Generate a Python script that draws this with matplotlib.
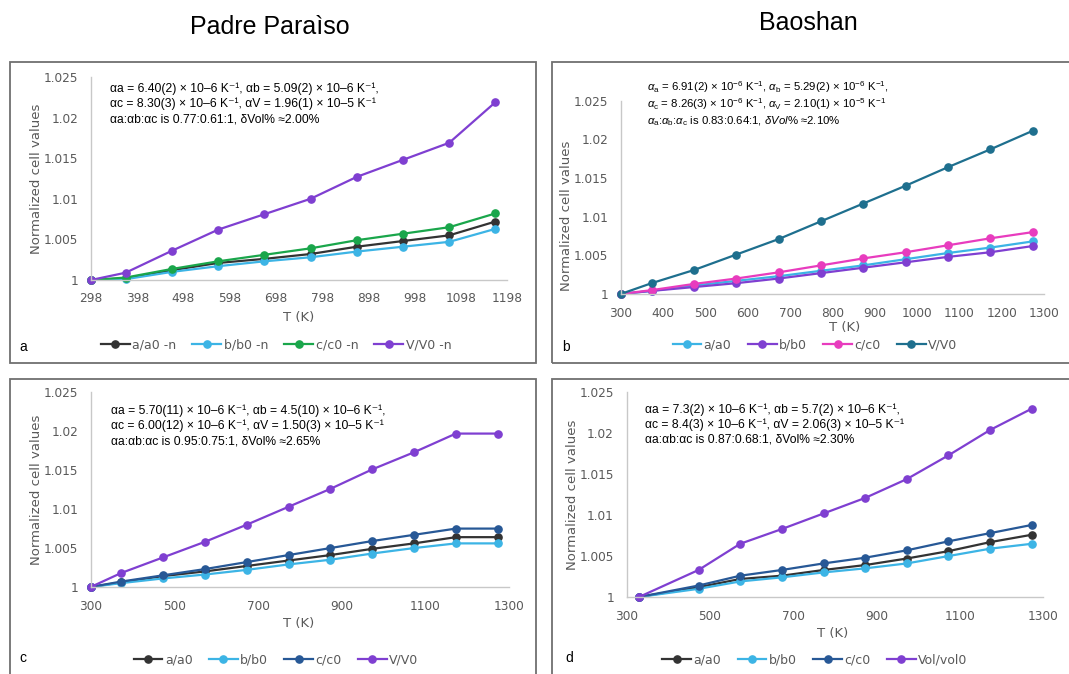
import matplotlib
matplotlib.use("Agg")
import matplotlib.pyplot as plt
from matplotlib.patches import Rectangle
from matplotlib.ticker import FuncFormatter, MultipleLocator
from matplotlib.lines import Line2D

plt.rcParams['mathtext.fontset'] = 'custom'
plt.rcParams['mathtext.rm'] = 'Liberation Sans'
plt.rcParams['mathtext.it'] = 'Liberation Sans:italic'
plt.rcParams['mathtext.bf'] = 'Liberation Sans:bold'

# ---------------- data ----------------
T_a = [298, 373, 473, 573, 673, 773, 873, 973, 1073, 1173]
a_a = [1, 1.0002, 1.0012, 1.0021, 1.0026, 1.0032, 1.0041, 1.0048, 1.0055, 1.0072]
b_a = [1, 1.0001, 1.0010, 1.0017, 1.0023, 1.0028, 1.0035, 1.0041, 1.0047, 1.0063]
c_a = [1, 1.0003, 1.00136, 1.0023, 1.0031, 1.0039, 1.0049, 1.0057, 1.0065, 1.0082]
V_a = [1, 1.0009, 1.0036, 1.0062, 1.0081, 1.0100, 1.0127, 1.0148, 1.0169, 1.0219]

T_b = [300, 373, 473, 573, 673, 773, 873, 973, 1073, 1173, 1273]
a_b = [1, 1.0004, 1.0011, 1.0017, 1.0023, 1.0030, 1.0037, 1.0045, 1.0053, 1.0060, 1.0068]
b_b = [1, 1.0004, 1.0009, 1.0014, 1.0020, 1.0027, 1.0034, 1.0041, 1.0048, 1.0054, 1.0062]
c_b = [1, 1.0005, 1.0013, 1.0020, 1.0028, 1.0037, 1.0046, 1.0054, 1.0063, 1.0072, 1.0080]
V_b = [1, 1.0014, 1.0031, 1.0051, 1.0071, 1.0094, 1.0117, 1.0140, 1.0164, 1.0187, 1.0211]

T_c = [300, 373, 473, 573, 673, 773, 873, 973, 1073, 1173, 1273]
a_c = [1, 1.0006, 1.0014, 1.0020, 1.0027, 1.0034, 1.0041, 1.0049, 1.0056, 1.0064, 1.0064]
b_c = [1, 1.0005, 1.0011, 1.0016, 1.0022, 1.0029, 1.0035, 1.0043, 1.0050, 1.0056, 1.0056]
c_c = [1, 1.0007, 1.0015, 1.0023, 1.0032, 1.0041, 1.0050, 1.0059, 1.0067, 1.0075, 1.0075]
V_c = [1, 1.0018, 1.0038, 1.0058, 1.0080, 1.0103, 1.0126, 1.0151, 1.0173, 1.0197, 1.0197]

T_d = [330, 473, 573, 673, 773, 873, 973, 1073, 1173, 1273]
a_d = [1, 1.0012, 1.0022, 1.0026, 1.0033, 1.0039, 1.0047, 1.0056, 1.0067, 1.0076]
b_d = [1, 1.0010, 1.0019, 1.0024, 1.0030, 1.0035, 1.0041, 1.0050, 1.0059, 1.0065]
c_d = [1, 1.0014, 1.0026, 1.0033, 1.0041, 1.0048, 1.0057, 1.0068, 1.0078, 1.0088]
V_d = [1, 1.0033, 1.0065, 1.0083, 1.0102, 1.0121, 1.0144, 1.0173, 1.0204, 1.0230]

labels_a = ["a/a0 -n", "b/b0 -n", "c/c0 -n", "V/V0 -n"]
labels_b = ["a/a0", "b/b0", "c/c0", "V/V0"]
labels_c = ["a/a0", "b/b0", "c/c0", "V/V0"]
labels_d = ["a/a0", "b/b0", "c/c0", "Vol/vol0"]

titles = ["Padre Paraìso", "Baoshan"]

text_a = ["αa = 6.40(2) × 10–6 K⁻¹, αb = 5.09(2) × 10–6 K⁻¹,",
          "αc = 8.30(3) × 10–6 K⁻¹, αV = 1.96(1) × 10–5 K⁻¹",
          "αa:αb:αc is 0.77:0.61:1, δVol% ≈2.00%"]
text_b = [r"$\alpha_\mathrm{a}$ = 6.91(2) × 10$^{-6}$ K$^{-1}$, $\alpha_\mathrm{b}$ = 5.29(2) × 10$^{-6}$ K$^{-1}$,",
          r"$\alpha_\mathrm{c}$ = 8.26(3) × 10$^{-6}$ K$^{-1}$, $\alpha_\mathrm{V}$ = 2.10(1) × 10$^{-5}$ K$^{-1}$",
          r"$\alpha_\mathrm{a}$:$\alpha_\mathrm{b}$:$\alpha_\mathrm{c}$ is 0.83:0.64:1, $\delta Vol\%$ ≈2.10%"]
text_c = ["αa = 5.70(11) × 10–6 K⁻¹, αb = 4.5(10) × 10–6 K⁻¹,",
          "αc = 6.00(12) × 10–6 K⁻¹, αV = 1.50(3) × 10–5 K⁻¹",
          "αa:αb:αc is 0.95:0.75:1, δVol% ≈2.65%"]
text_d = ["αa = 7.3(2) × 10–6 K⁻¹, αb = 5.7(2) × 10–6 K⁻¹,",
          "αc = 8.4(3) × 10–6 K⁻¹, αV = 2.06(3) × 10–5 K⁻¹",
          "αa:αb:αc is 0.87:0.68:1, δVol% ≈2.30%"]

BLACK = '#333333'
LBLUE = '#3cb4e5'
GREEN = '#1aa64b'
PURPLE = '#7f3fd1'
MAGENTA = '#e83cbe'
TEAL = '#1e6f8e'
DBLUE = '#275896'

# ---------------- layout ----------------
W, H = 1069, 674
fig = plt.figure(figsize=(W / 100, H / 100), dpi=100)

def fxy(x, y):
    return x / W, 1 - y / H

TXT = ['Liberation Sans', 'DejaVu Sans']
TICKC = '#595959'

# panel boxes
for (x0, y0, x1, y1) in [(10, 62, 536, 363), (552, 62, 1071, 363),
                         (10, 379, 536, 676), (552, 379, 1071, 676)]:
    fig.patches.append(Rectangle((x0 / W, 1 - y1 / H), (x1 - x0) / W, (y1 - y0) / H,
                                 transform=fig.transFigure, fill=False,
                                 edgecolor='#6f6f6f', linewidth=1.3))

# titles
fig.text(*fxy(270, 27), titles[0], ha='center', va='center', fontsize=18,
         family=TXT, color='black')
fig.text(*fxy(808, 23), titles[1], ha='center', va='center', fontsize=18,
         family=TXT, color='black')

def make_panel(box, xlim, xstep, T, series, colors, labels, text_lines, text_pos,
               text_size, text_step, xlabel_pos, ylabel_pos, letter, letter_pos,
               legend_pos):
    x0, x1, yt, yb = box
    ax = fig.add_axes([x0 / W, 1 - yb / H, (x1 - x0) / W, (yb - yt) / H])
    ax.set_xlim(*xlim)
    ax.set_ylim(1, 1.025)
    for s, c, lab in zip(series, colors, labels):
        ax.plot(T, s, color=c, lw=1.6, marker='o', ms=5.2, label=lab, clip_on=False)
    ax.set_xticks(list(range(xlim[0], xlim[1] + 1, xstep)))
    ax.yaxis.set_major_locator(MultipleLocator(0.005))
    ax.yaxis.set_major_formatter(FuncFormatter(lambda v, p: ('%.3f' % v).rstrip('0').rstrip('.')))
    for sp in ['top', 'right']:
        ax.spines[sp].set_visible(False)
    for sp in ['left', 'bottom']:
        ax.spines[sp].set_color('#c8c8c8')
        ax.spines[sp].set_linewidth(1.0)
    ax.tick_params(length=0, labelsize=8.7, labelcolor=TICKC)
    ax.tick_params(axis='x', pad=9)
    ax.tick_params(axis='y', pad=9)
    ax.patch.set_visible(False)
    # annotation texts
    tx, ty = text_pos
    for i, line in enumerate(text_lines):
        fig.text(*fxy(tx, ty + i * text_step), line, ha='left', va='center',
                 fontsize=text_size, family=TXT, color='black')
    fig.text(*fxy(*xlabel_pos), "T (K)", ha='center', va='center', fontsize=9.5,
             color=TICKC)
    fig.text(*fxy(*ylabel_pos), "Normalized cell values", ha='center', va='center',
             fontsize=9.5, color=TICKC, rotation=90)
    fig.text(*fxy(*letter_pos), letter, ha='center', va='center', fontsize=10,
             family=TXT, color='black')
    handles = [Line2D([], [], color=c, lw=1.6, marker='o', ms=5.2) for c in colors]
    fig.legend(handles, labels, loc='center', bbox_to_anchor=fxy(*legend_pos),
               ncol=4, frameon=False, fontsize=9, handlelength=2.3,
               handletextpad=0.2, columnspacing=1.3, labelcolor=TICKC,
               borderpad=0, borderaxespad=0)
    return ax

make_panel((91, 507, 77, 280), (298, 1198), 100, T_a,
           [a_a, b_a, c_a, V_a], [BLACK, LBLUE, GREEN, PURPLE], labels_a,
           text_a, (110, 89), 8.7, 15, (299, 317), (37, 179), 'a', (23, 347), (276, 345))
make_panel((620.7, 1044, 100.7, 294), (300, 1300), 100, T_b,
           [a_b, b_b, c_b, V_b], [LBLUE, PURPLE, MAGENTA, TEAL], labels_b,
           text_b, (647, 87), 8.2, 17, (845, 327), (566, 216), 'b', (566, 347), (815, 345))
make_panel((90.7, 509, 392.3, 587), (300, 1300), 200, T_c,
           [a_c, b_c, c_c, V_c], [BLACK, LBLUE, DBLUE, PURPLE], labels_c,
           text_c, (111, 411), 8.7, 15, (299, 623), (37, 490), 'c', (23, 658), (276, 660))
make_panel((626.5, 1043, 392.3, 597), (300, 1300), 200, T_d,
           [a_d, b_d, c_d, V_d], [BLACK, LBLUE, DBLUE, PURPLE], labels_d,
           text_d, (645, 410), 8.7, 15, (833, 633), (573, 495), 'd', (569, 658), (815, 660))

fig.savefig("out.png", dpi=100)
